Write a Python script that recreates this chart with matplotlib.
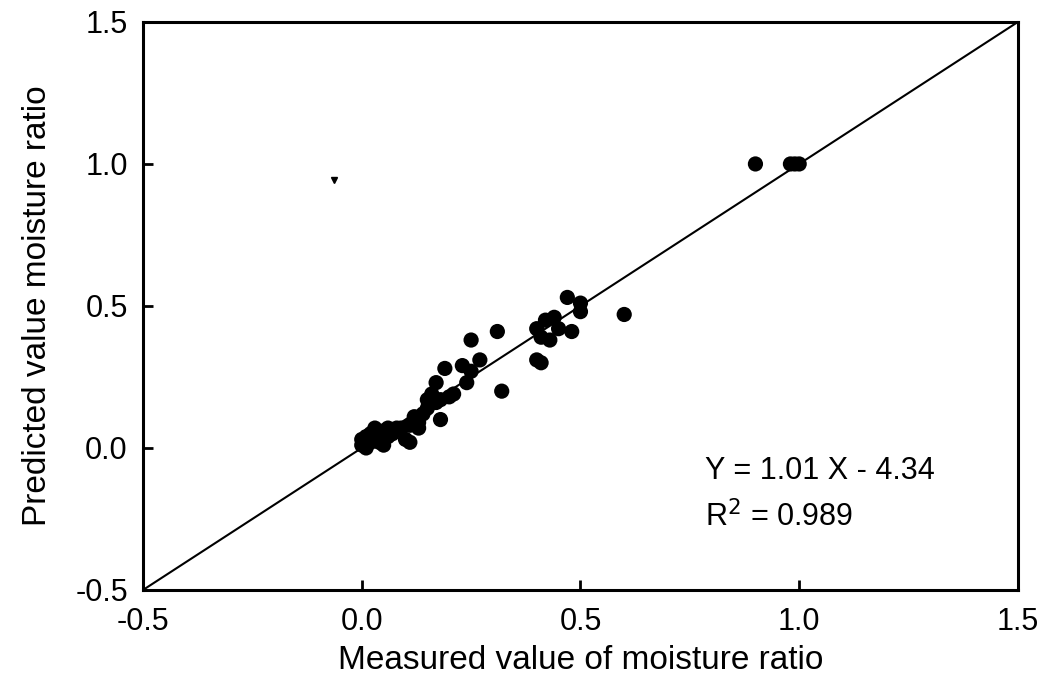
import numpy as np
import matplotlib
matplotlib.use("Agg")
from matplotlib import pyplot as plt

plt.rcParams['font.family'] = ['Liberation Sans', 'DejaVu Sans']

# measured vs predicted moisture ratio
measured = [0.90, 0.98, 0.99, 1.00,
            0.60, 0.50, 0.50, 0.47, 0.48, 0.45, 0.44, 0.43, 0.42, 0.41,
            0.40, 0.40, 0.41, 0.31, 0.32, 0.25, 0.27, 0.25, 0.24, 0.23,
            0.21, 0.19, 0.18, 0.17, 0.17, 0.16, 0.15, 0.14, 0.13, 0.13,
            0.12, 0.11, 0.11, 0.10, 0.18, 0.09, 0.08, 0.07, 0.06, 0.05,
            0.05, 0.04, 0.03, 0.03, 0.02, 0.02, 0.01, 0.00, 0.00, 0.01,
            0.04, 0.06, 0.15, 0.20, 0.12]
predicted = [1.00, 1.00, 1.00, 1.00,
             0.47, 0.51, 0.48, 0.53, 0.41, 0.42, 0.46, 0.38, 0.45, 0.39,
             0.42, 0.31, 0.30, 0.41, 0.20, 0.38, 0.31, 0.27, 0.23, 0.29,
             0.19, 0.28, 0.17, 0.23, 0.16, 0.19, 0.14, 0.12, 0.09, 0.07,
             0.11, 0.08, 0.02, 0.03, 0.10, 0.07, 0.07, 0.05, 0.07, 0.06,
             0.01, 0.05, 0.07, 0.03, 0.02, 0.05, 0.00, 0.01, 0.03, 0.04,
             0.02, 0.04, 0.17, 0.18, 0.09]

xticks = [-0.5, 0.0, 0.5, 1.0, 1.5]
yticks = [-0.5, 0.0, 0.5, 1.0, 1.5]

fig = plt.figure(figsize=(10.44, 6.86), dpi=100)
ax = fig.add_axes([0.137, 0.140, 0.838, 0.828])

# 1:1 line
ax.plot([-0.5, 1.5], [-0.5, 1.5], color='black', lw=1.5, zorder=1)
ax.scatter(measured, predicted, s=120, color='black', edgecolors='none', zorder=2)
ax.plot([-0.063], [0.944], marker='v', color='black', ms=4, ls='none')

ax.set_xlim(-0.5, 1.5)
ax.set_ylim(-0.5, 1.5)
ax.set_xticks(xticks)
ax.set_yticks(yticks)
ax.set_xticklabels([f'{t:.1f}' for t in xticks])
ax.set_yticklabels([f'{t:.1f}' for t in yticks])
ax.tick_params(direction='in', length=7, width=2, labelsize=22)
ax.tick_params(axis='x', pad=12)
ax.tick_params(axis='y', pad=11)
for sp in ax.spines.values():
    sp.set_linewidth(2.2)

ax.set_xlabel('Measured value of moisture ratio', fontsize=24, labelpad=6)
ax.set_ylabel('Predicted value moisture ratio', fontsize=24, labelpad=16)

ax.text(0.785, -0.11, 'Y = 1.01 X - 4.34', fontsize=22)
ax.text(0.785, -0.275, 'R$^2$ = 0.989', fontsize=22)

fig.savefig('out.png', dpi=100)
